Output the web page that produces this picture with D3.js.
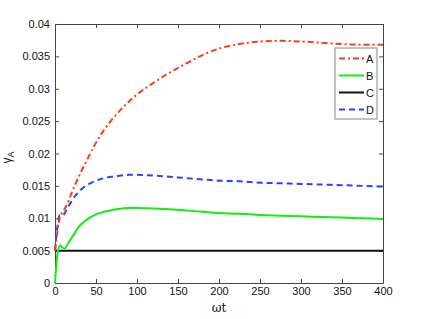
<!DOCTYPE html>
<html>
<head>
<meta charset="utf-8">
<script src="https://cdn.jsdelivr.net/npm/d3@7"></script>
<style>
  body { margin: 0; background: #fff; }
  svg { display: block; font-family: "Liberation Sans", Arial, sans-serif; }
  .axis path, .axis line { stroke: #444; }
  .axis text { font-size: 11px; fill: #111; }
</style>
</head>
<body>
<div class="chart"></div>
<script>
// time points (omega t)
const tVals = [0, 3, 6, 9, 12, 15, 20, 25, 30, 35, 40, 50, 60, 75, 90, 100, 120, 140, 160, 180, 200, 225, 250, 275, 300, 325, 350, 375, 400];

const seriesA = [0.005, 0.008, 0.0102, 0.0109, 0.0115, 0.0122, 0.0138, 0.0153, 0.0167, 0.018, 0.01925, 0.02165, 0.02365, 0.02605, 0.028, 0.0291, 0.0309, 0.0325, 0.0339, 0.0352, 0.0362, 0.0369, 0.0373, 0.0374, 0.0373, 0.0371, 0.0369, 0.0368, 0.0368];
const seriesB = [0, 0.0045, 0.0058, 0.0055, 0.0053, 0.0059, 0.0069, 0.0079, 0.0088, 0.0094, 0.0099, 0.0106, 0.011, 0.0114, 0.0116, 0.0116, 0.0115, 0.0114, 0.0112, 0.011, 0.0108, 0.0107, 0.0105, 0.0104, 0.0103, 0.0102, 0.0101, 0.01, 0.0099];
const seriesC = [0.005, 0.005, 0.005, 0.005, 0.005, 0.005, 0.005, 0.005, 0.005, 0.005, 0.005, 0.005, 0.005, 0.005, 0.005, 0.005, 0.005, 0.005, 0.005, 0.005, 0.005, 0.005, 0.005, 0.005, 0.005, 0.005, 0.005, 0.005, 0.005];
const seriesD = [0.005, 0.0088, 0.0105, 0.0104, 0.0108, 0.0115, 0.0126, 0.0135, 0.0142, 0.0148, 0.0152, 0.0158, 0.0162, 0.0165, 0.0167, 0.0167, 0.0166, 0.0164, 0.0162, 0.016, 0.0158, 0.0157, 0.0155, 0.0154, 0.0153, 0.0152, 0.0151, 0.015, 0.0149];

const names = ["A", "B", "C", "D"];
const xTicks = [0, 50, 100, 150, 200, 250, 300, 350, 400];
const yTicks = [0, 0.005, 0.01, 0.015, 0.02, 0.025, 0.03, 0.035, 0.04];

const styles = {
  A: {color: "#ff3a10", dash: "6,3,2,3", width: 2},
  B: {color: "#11ee11", dash: null, width: 2},
  C: {color: "#111", dash: null, width: 2},
  D: {color: "#2244ff", dash: "6,4", width: 2}
};

var margin = {top: 24, right: 41, bottom: 36, left: 55};
var width = 424 - margin.left - margin.right,
    height = 319 - margin.top - margin.bottom;

const svg = d3.select(".chart").append("svg")
    .attr("width", 424)
    .attr("height", 319)
  .append("g")
    .attr("transform", "translate(" + margin.left + "," + margin.top + ")");

const x = d3.scaleLinear().domain([0, 400]).range([0, width]);
const y = d3.scaleLinear().domain([0, 0.04]).range([height, 0]);

svg.append("g")
    .attr("class", "axis")
    .attr("transform", `translate(0,${height})`)
    .call(d3.axisBottom(x).tickValues(xTicks).tickSizeInner(-4).tickSizeOuter(0).tickPadding(4));
svg.append("g")
    .attr("class", "axis")
    .call(d3.axisTop(x).tickValues(xTicks).tickSizeInner(-4).tickSizeOuter(0).tickFormat(""));
svg.append("g")
    .attr("class", "axis")
    .call(d3.axisLeft(y).tickValues(yTicks).tickSizeInner(-4).tickSizeOuter(0).tickPadding(5).tickFormat(d3.format("~g")));
svg.append("g")
    .attr("class", "axis")
    .attr("transform", `translate(${width},0)`)
    .call(d3.axisRight(y).tickValues(yTicks).tickSizeInner(-4).tickSizeOuter(0).tickFormat(""));

const data = {A: seriesA, B: seriesB, C: seriesC, D: seriesD};

const line = d3.line()
    .x(d => x(d[0]))
    .y(d => y(d[1]))
    .curve(d3.curveMonotoneX);

// draw C first so the others sit on top of it
["C", "B", "D", "A"].forEach(k => {
  svg.append("path")
      .datum(tVals.map((t, i) => [t, data[k][i]]))
      .attr("fill", "none")
      .attr("stroke", styles[k].color)
      .attr("stroke-width", styles[k].width)
      .attr("stroke-dasharray", styles[k].dash)
      .attr("d", line);
});

// legend
const lg = svg.append("g").attr("transform", "translate(280,24)");
lg.append("rect")
    .attr("width", 42).attr("height", 71)
    .attr("fill", "#fff").attr("stroke", "#888");
names.forEach((k, i) => {
  const yy = 10.5 + i * 17;
  lg.append("line")
      .attr("x1", 4).attr("x2", 29).attr("y1", yy).attr("y2", yy)
      .attr("stroke", styles[k].color)
      .attr("stroke-width", styles[k].width)
      .attr("stroke-dasharray", styles[k].dash);
  lg.append("text")
      .attr("x", 31).attr("y", yy + 4)
      .attr("font-size", 11).attr("fill", "#111")
      .text(k);
});

// axis labels
svg.append("text")
    .attr("x", width / 2).attr("y", height + 29)
    .attr("text-anchor", "middle")
    .attr("font-size", 12).attr("fill", "#111")
    .attr("font-family", "DejaVu Serif, serif")
    .text("ωt");

const yl = svg.append("text")
    .attr("transform", `translate(${-44},${height / 2 + 4}) rotate(-90)`)
    .attr("text-anchor", "middle")
    .attr("font-size", 12).attr("fill", "#111");
yl.append("tspan").text("γ");
yl.append("tspan").attr("dy", 3).attr("font-size", 9).text("A");
</script>
</body>
</html>
